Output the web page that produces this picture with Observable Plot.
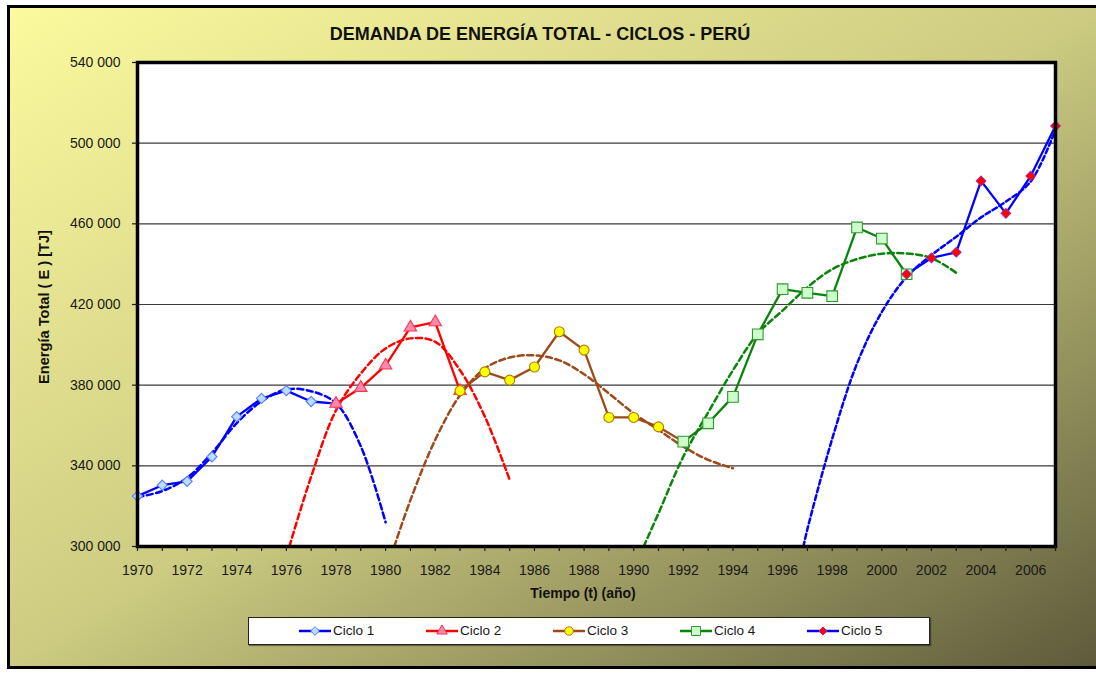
<!DOCTYPE html>
<html><head><meta charset="utf-8">
<script src="https://cdn.jsdelivr.net/npm/d3@7"></script>
<script src="https://cdn.jsdelivr.net/npm/@observablehq/plot@0.6"></script>
<style>
body{margin:0;background:#fff;font-family:"Liberation Sans",Arial,sans-serif;}
#wrap{position:relative;width:1096px;height:673px;overflow:hidden;}
#box{position:absolute;left:7px;top:5px;width:1100px;height:664px;box-sizing:border-box;border:3px solid #000;
 background:linear-gradient(to bottom right,#fbfa9e 0%,#e4e290 25%,#cccb81 50%,#9c9a62 72%,#5c5a3a 100%);}
#chart{position:absolute;left:0;top:0;}
.ttl{position:absolute;white-space:nowrap;font-weight:bold;color:#111;line-height:1;}
#title{left:540px;top:25px;transform:translateX(-50%);font-size:18px;}
#xt{left:583px;top:586px;transform:translateX(-50%);font-size:14px;}
#yt{left:44px;top:307px;transform:translate(-50%,-50%) rotate(-90deg);font-size:14.6px;}
#legend{position:absolute;left:248px;top:617px;width:682px;height:28px;box-sizing:border-box;background:#fff;border:1.5px solid #222;box-shadow:1px 1px 1px rgba(0,0,0,0.4);}
.li{position:absolute;top:0;height:25px;display:flex;align-items:center;font-size:13.5px;color:#1a1a1a;}
.li svg{display:block;margin-right:2px;}
</style>
</head><body>
<div id="wrap">
 <div id="box"></div>
 <div id="chart"></div>
 <div class="ttl" id="title">DEMANDA DE ENERGÍA TOTAL - CICLOS - PERÚ</div>
 <div class="ttl" id="xt">Tiempo (t) (año)</div>
 <div class="ttl" id="yt">Energía Total ( E ) [TJ]</div>
 <div id="legend"></div>
</div>
<script>
// ---- Data ----
const seriesNames = ["Ciclo 1", "Ciclo 2", "Ciclo 3", "Ciclo 4", "Ciclo 5"];

const c1Years = [1970, 1971, 1972, 1973, 1974, 1975, 1976, 1977, 1978];
const c1Vals  = [325000, 330400, 332300, 344500, 364400, 373400, 377300, 371900, 370800];
const c2Years = [1978, 1979, 1980, 1981, 1982, 1983];
const c2Vals  = [370800, 378700, 389800, 408600, 411200, 377200];
const c3Years = [1983, 1984, 1985, 1986, 1987, 1988, 1989, 1990, 1991, 1992];
const c3Vals  = [377200, 386600, 382500, 389000, 406500, 397400, 364000, 364000, 359300, 352000];
const c4Years = [1992, 1993, 1994, 1995, 1996, 1997, 1998, 1999, 2000, 2001];
const c4Vals  = [352000, 361100, 374200, 405200, 427600, 425800, 424100, 458200, 452700, 435000];
const c5Years = [2001, 2002, 2003, 2004, 2005, 2006, 2007];
const c5Vals  = [435000, 443100, 445900, 481300, 465200, 483700, 508500];

// trend (dashed) curves, read point by point
const t1Years = [1970, 1971, 1972, 1973, 1974, 1975, 1976, 1977, 1978, 1979, 1980];
const t1Vals  = [324500, 327500, 334100, 346400, 361200, 372000, 377900, 377000, 371000, 349700, 312000];
const t2Years = [1976.12, 1977, 1978, 1979, 1980, 1981, 1982, 1983, 1984, 1985];
const t2Vals  = [300000, 334700, 367500, 385800, 398200, 403200, 401500, 387400, 364400, 333100];
const t3Years = [1980.35, 1981, 1982, 1983, 1984, 1985, 1986, 1987, 1988, 1989, 1990, 1991, 1992, 1993, 1994];
const t3Vals  = [300000, 323000, 352900, 375000, 388300, 393700, 394800, 392300, 385400, 375900, 366000, 357800, 349500, 343000, 338800];
const t4Years = [1990.4, 1991, 1992, 1993, 1994, 1995, 1996, 1997, 1998, 1999, 2000, 2001, 2002, 2003];
const t4Vals  = [300000, 316500, 344600, 366500, 387400, 405500, 417000, 428500, 437500, 442500, 445200, 445300, 443000, 435700];
const t5Years = [1996.84, 1997, 1998, 1999, 2000, 2001, 2002, 2003, 2004, 2005, 2006, 2007];
const t5Vals  = [300000, 308600, 353400, 390700, 416300, 433700, 444500, 453600, 463200, 471000, 481000, 506600];

const yTicks = [300000, 340000, 380000, 420000, 460000, 500000, 540000];
const allYears = d3.range(1970, 2008);
const evenYears = d3.range(1970, 2007, 2);

// ---- styles ----
const styles = [
  {line: "#0000ff", symbol: "diamond2", r: 4.6, fill: "#b9dcff", stroke: "#5b7cff", dash: "6,3.5"},
  {line: "#ff0000", symbol: "triangle", r: 4.6, fill: "#f78aab", stroke: "#ff3355", dash: "6,3.5"},
  {line: "#9c4a1a", symbol: "circle",   r: 5.0, fill: "#ffff00", stroke: "#b07a00", dash: "6,3.5"},
  {line: "#0a840a", symbol: "square",   r: 6.0, fill: "#ccffcc", stroke: "#2e9a2e", dash: "6,3.5"},
  {line: "#0000ff", symbol: "diamond2", r: 4.3, fill: "#ff0000", stroke: "#b0208a", dash: "5,3"}
];

const zip = (ys, vs) => ys.map((x, i) => ({x, y: vs[i]}));
const series = [zip(c1Years, c1Vals), zip(c2Years, c2Vals), zip(c3Years, c3Vals), zip(c4Years, c4Vals), zip(c5Years, c5Vals)];
const trends = [zip(t1Years, t1Vals), zip(t2Years, t2Vals), zip(t3Years, t3Vals), zip(t4Years, t4Vals), zip(t5Years, t5Vals)];

const fmt = d3.formatLocale({thousands: " ", grouping: [3], decimal: ",", currency: ["", ""]}).format(",");

const marks = [
  Plot.frame({fill: "white", stroke: null}),
  Plot.gridY(yTicks, {stroke: "#3a3a3a", strokeOpacity: 1, strokeWidth: 1.2})
];
series.forEach((d, i) => marks.push(Plot.line(d, {x: "x", y: "y", stroke: styles[i].line, strokeWidth: 2.3})));
trends.forEach((d, i) => marks.push(Plot.line(d, {x: "x", y: "y", stroke: styles[i].line, strokeWidth: 2.5,
  strokeDasharray: styles[i].dash, curve: "catmull-rom", clip: true})));
series.forEach((d, i) => marks.push(Plot.dot(d, {x: "x", y: "y", symbol: styles[i].symbol, r: styles[i].r,
  fill: styles[i].fill, stroke: styles[i].stroke, strokeWidth: 1.1})));
marks.push(
  Plot.frame({stroke: "#000", strokeWidth: 3.5}),
  Plot.axisY(yTicks, {tickSize: 5, tickPadding: 12, tickFormat: fmt, label: null, strokeWidth: 1.2}),
  Plot.axisX(allYears, {tickSize: 5, tickFormat: () => "", label: null, strokeWidth: 1.2}),
  Plot.axisX(evenYears, {tickSize: 0, tickPadding: 19, tickFormat: d => String(d), label: null})
);

const chart = Plot.plot({
  width: 1096, height: 673,
  marginLeft: 137, marginRight: 41, marginTop: 62, marginBottom: 127,
  style: {background: "transparent", fontFamily: "'Liberation Sans', Arial, sans-serif", fontSize: "14px", color: "#1a1a1a", overflow: "visible"},
  x: {domain: [1970, 2007]},
  y: {domain: [300000, 540000]},
  marks
});
document.getElementById("chart").appendChild(chart);

// ---- legend ----
const legend = document.getElementById("legend");
const legendX = [50, 177, 304, 431, 558];
const symMap = {diamond2: d3.symbolDiamond2, triangle: d3.symbolTriangle, circle: d3.symbolCircle, square: d3.symbolSquare};
seriesNames.forEach((name, i) => {
  const s = styles[i];
  const div = document.createElement("div");
  div.className = "li";
  div.style.left = legendX[i] + "px";
  const size = Math.PI * (s.r * 0.85) ** 2;
  const path = d3.symbol(symMap[s.symbol], size)();
  div.innerHTML = `<svg width="32" height="14"><line x1="0" x2="32" y1="7" y2="7" stroke="${s.line}" stroke-width="2.5"/>` +
    `<path d="${path}" transform="translate(16,7)" fill="${s.fill}" stroke="${s.stroke}" stroke-width="1"/></svg><span>${name}</span>`;
  legend.appendChild(div);
});
</script>
</body></html>
